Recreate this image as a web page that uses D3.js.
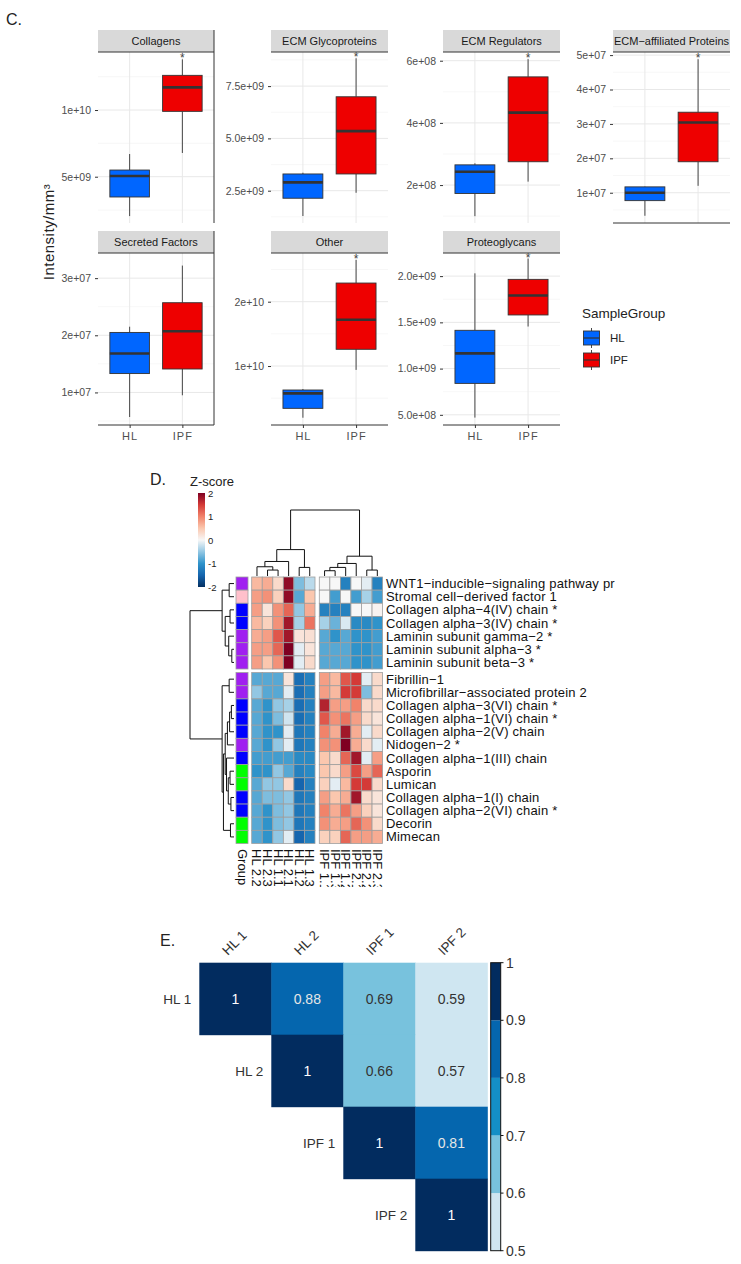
<!DOCTYPE html>
<html><head><meta charset="utf-8">
<script src="https://cdn.jsdelivr.net/npm/d3@7"></script>
<style>body{margin:0;background:#fff;} svg{display:block;font-family:"Liberation Sans",Arial,sans-serif;}</style>
</head><body><svg id="fig" width="741" height="1264"></svg>
<script>
// ================= Panel C data =================
const groups = ["HL","IPF"];
const groupFill = ["#0066FF","#EE0000"];
const facets = ["Collagens","ECM Glycoproteins","ECM Regulators","ECM−affiliated Proteins","Secreted Factors","Other","Proteoglycans"];
// [lower whisker, Q1, median, Q3, upper whisker]
const hlStats = [
  [2.05e9,3.48e9,5.05e9,5.5e9,6.7e9],
  [1.29e9,2.14e9,2.90e9,3.30e9,3.36e9],
  [1.0e8,1.73e8,2.43e8,2.65e8,2.70e8],
  [3.3e6,7.7e6,1.0e7,1.17e7,1.18e7],
  [5.7e6,1.33e7,1.68e7,2.05e7,2.15e7],
  [1.96e9,3.42e9,5.75e9,6.27e9,6.42e9],
  [4.7e8,8.4e8,1.165e9,1.414e9,2.03e9]
];
const ipfStats = [
  [6.78e9,0.99e10,1.17e10,1.26e10,1.38e10],
  [2.40e9,3.30e9,5.35e9,6.99e9,8.83e9],
  [2.11e8,2.75e8,4.33e8,5.48e8,6.05e8],
  [1.2e7,1.9e7,3.04e7,3.34e7,4.88e7],
  [9.5e6,1.41e7,2.07e7,2.57e7,3.22e7],
  [9.4e9,1.26e10,1.72e10,2.29e10,2.65e10],
  [1.455e9,1.58e9,1.79e9,1.965e9,2.19e9]
];
const significant = [true,true,true,true,false,true,true];
const yLimits = [[1.53e9,1.435e10],[0.956e9,9.13e9],[0.78e8,6.28e8],[1.2e6,5.09e7],[4.3e6,3.44e7],[0.83e9,2.757e10],[0.39e9,2.25e9]];
const yTicks = [[5e9,1e10],[2.5e9,5e9,7.5e9],[2e8,4e8,6e8],[1e7,2e7,3e7,4e7,5e7],[1e7,2e7,3e7],[1e10,2e10],[5e8,1e9,1.5e9,2e9]];
const yTickLabels = [["5e+09","1e+10"],["2.5e+09","5.0e+09","7.5e+09"],["2e+08","4e+08","6e+08"],["1e+07","2e+07","3e+07","4e+07","5e+07"],["1e+07","2e+07","3e+07"],["1e+10","2e+10"],["5.0e+08","1.0e+09","1.5e+09","2.0e+09"]];
const facetCol = [0,1,2,3,0,1,2];
const facetRow = [0,0,0,0,1,1,1];

// ================= Panel D data =================
const rowNames = ["WNT1−inducible−signaling pathway pr","Stromal cell−derived factor 1","Collagen alpha−4(IV) chain *","Collagen alpha−3(IV) chain *","Laminin subunit gamma−2 *","Laminin subunit alpha−3 *","Laminin subunit beta−3 *","Fibrillin−1","Microfibrillar−associated protein 2","Collagen alpha−3(VI) chain *","Collagen alpha−1(VI) chain *","Collagen alpha−2(V) chain","Nidogen−2 *","Collagen alpha−1(III) chain","Asporin","Lumican","Collagen alpha−1(I) chain","Collagen alpha−2(VI) chain *","Decorin","Mimecan"];
const rowGroup = ["ECM Glycoproteins","Secreted Factors","Collagens","Collagens","ECM Glycoproteins","ECM Glycoproteins","ECM Glycoproteins","ECM Glycoproteins","ECM Glycoproteins","Collagens","Collagens","Collagens","ECM Glycoproteins","Collagens","Proteoglycans","Proteoglycans","Collagens","Collagens","Proteoglycans","Proteoglycans"];
const annoNames = ["Collagens","ECM Glycoproteins","Proteoglycans","Secreted Factors"];
const annoColors = ["#0000FF","#A020F0","#00FF00","#FFC0CB"];
const colNames = ["HL 2.2","HL 2.3","HL 1.1","HL 2.1","HL 1.2","HL 1.3","IPF 1.1","IPF 1.3","IPF 1.2","IPF 2.1","IPF 2.2","IPF 2.3"];
const zScores = [
  [0.6,0.7,0.3,1.9,-0.6,-0.3, 0,0,-1.2,0,-0.1,-1.2],
  [0.8,0.9,0.4,1.9,-0.8,0.5, 0,-0.9,0,-0.9,-0.4,-0.9],
  [0.8,0.2,0.9,1.2,-0.5,0.7, -1.2,-1.2,-1.2,0,0,0.05],
  [0.6,0.4,0.9,1.8,-0.4,1.1, -0.4,-0.7,-0.15,-1.1,-1.1,-1.0],
  [0.7,0.8,1.3,1.8,0.2,0.25, -0.8,-1.0,-0.8,-1.0,-1.0,-0.9],
  [0.8,0.8,1.2,2.0,-0.1,0.2, -0.8,-0.8,-0.8,-1.0,-1.0,-0.9],
  [0.8,0.5,0.9,2.1,-0.1,0.3, -0.8,-0.8,-0.8,-1.0,-1.0,-0.9],
  [-0.8,-0.8,-0.8,0.2,-1.4,-1.2, 0.8,0.6,1.3,1.5,-0.1,0.3],
  [-0.5,-0.8,-0.8,-0.1,-1.4,-1.2, 0.8,0.6,1.5,1.5,-0.6,0.3],
  [-0.8,-1.0,-0.5,-0.4,-1.4,-1.2, 1.7,0.8,0.8,1.0,0.3,0.3],
  [-0.8,-1.0,-0.6,-0.2,-1.4,-1.2, 1.3,0.9,1.1,0.8,0.3,0.2],
  [-0.8,-1.0,-1.0,-0.1,-1.3,-1.2, 1.0,0.7,1.8,0.7,-0.1,0.3],
  [-0.8,-1.0,-0.5,-0.1,-1.3,-1.2, 0.9,0.9,2.1,0.7,0.3,-0.1],
  [-0.9,-0.9,-0.9,-0.9,-1.1,-1.1, 0.5,0.3,1.2,1.8,-0.1,0.8],
  [-1.0,-1.0,-0.5,-0.8,-1.2,-1.1, 0.5,0.3,0.8,1.4,0.8,1.2],
  [-0.8,-0.5,-0.5,0.3,-1.5,-1.2, 0.4,-0.1,0.6,1.5,1.5,0.3],
  [-0.8,-0.6,-0.6,-0.5,-1.3,-1.2, 0.8,0.5,0.7,1.8,0.3,0.2],
  [-0.8,-1.0,-0.6,-0.5,-1.3,-1.2, 1.0,0.7,1.1,0.8,0.4,0.2],
  [-0.8,-1.0,-0.6,-0.5,-1.3,-1.2, 0.9,0.7,0.8,1.2,0.9,0.3],
  [-0.8,-1.0,-0.5,-0.1,-1.5,-1.2, 0.4,0.4,1.2,0.8,0.8,0.7]
];
// dendrograms: [height, left, right]; leaves are indices
const colTree = [10, [4.0, [2.2, [1.4, 0, [0.9, 1, 2]], 3], [1.3, 4, 5]],
                     [3.0, [1.9, [1.3, [0.8, 6, 7], 8], 9], [0.9, 10, 11]]];
const rowTree = [10,
  [2.7, [1.1, 0, 1], [2.0, [0.9, 2, 3], [1.2, 4, [0.5, 5, 6]]]],
  [2.7, [1.1, 7, 8], [2.4, [2.0, [1.5, [1.0, [0.6, 9, 10], 11], 12], [1.7, 13, [1.3, [0.9, 14, 15], [0.7, 16, 17]]]], [0.8, 18, 19]]]];
const zLegendTicks = [2,1,0,-1,-2];

// ================= Panel E data =================
const samples = ["HL 1","HL 2","IPF 1","IPF 2"];
const corr = [
  [1, 0.88, 0.69, 0.59],
  [null, 1, 0.66, 0.57],
  [null, null, 1, 0.81],
  [null, null, null, 1]
];
const corrBreaks = [0.6,0.7,0.8,0.9];
const corrColors = ["#CFE6F1","#78C2DD","#148FC6","#0566AE","#022C5F"];
const corrLegendTicks = [1,0.9,0.8,0.7,0.6,0.5];

// =================================================
const svg = d3.select("#fig");
const FONT = "Liberation Sans, Arial, sans-serif";

// ---------------- Panel C ----------------
const pc = svg.append("g");
pc.append("text").attr("x",6).attr("y",25).attr("font-size",16).attr("fill","#222").text("C.");
const panelLeft=[98,271,443,613], panelW=[116,117,117,117];
const stripTop=[30,231], plotTop=[52,253], plotBottom=[223,425];
const defs = svg.append("defs");

facets.forEach((name,i)=>{
  const c = facetCol[i], r = facetRow[i];
  const x0 = panelLeft[c], w = panelW[c];
  const x = d3.scalePoint().domain(groups).range([x0,x0+w]).padding(0.6);
  const y = d3.scaleLinear().domain(yLimits[i]).range([plotBottom[r], plotTop[r]]);
  const g = pc.append("g");
  const t = yTicks[i], step = t[1]-t[0];
  const minors = [];
  for(let v=t[0]-step/2; v<=yLimits[i][1]; v+=step) if(v>=yLimits[i][0]) minors.push(v);
  g.selectAll(".mn").data(minors).join("line")
    .attr("x1",x0).attr("x2",x0+w).attr("y1",d=>y(d)).attr("y2",d=>y(d))
    .attr("stroke","#F3F3F3").attr("stroke-width",0.7);
  g.selectAll(".mj").data(t).join("line")
    .attr("x1",x0).attr("x2",x0+w).attr("y1",d=>y(d)).attr("y2",d=>y(d))
    .attr("stroke","#E8E8E8").attr("stroke-width",1);
  g.selectAll(".vg").data(groups).join("line")
    .attr("x1",d=>x(d)).attr("x2",d=>x(d)).attr("y1",plotTop[r]).attr("y2",plotBottom[r])
    .attr("stroke","#E8E8E8").attr("stroke-width",1);
  // strip
  const clipId = "strip"+i;
  defs.append("clipPath").attr("id",clipId).append("rect")
    .attr("x",x0).attr("y",stripTop[r]).attr("width",w).attr("height",plotTop[r]-stripTop[r]);
  g.append("rect").attr("x",x0).attr("y",stripTop[r]).attr("width",w).attr("height",plotTop[r]-stripTop[r]).attr("fill","#D9D9D9");
  g.append("line").attr("x1",x0).attr("x2",x0+w).attr("y1",plotTop[r]).attr("y2",plotTop[r]).attr("stroke","#333").attr("stroke-width",1);
  g.append("text").attr("clip-path",`url(#${clipId})`)
    .attr("x",x0+w/2).attr("y",(stripTop[r]+plotTop[r])/2+4).attr("text-anchor","middle")
    .attr("font-size",11).attr("fill","#1A1A1A").text(name);
  // boxes
  const bw = x.step()*0.75;
  groups.forEach((gn,k)=>{
    const s = k===0 ? hlStats[i] : ipfStats[i];
    const cx = x(gn);
    g.append("line").attr("x1",cx).attr("x2",cx).attr("y1",y(s[0])).attr("y2",y(s[1])).attr("stroke","#333").attr("stroke-width",0.9);
    g.append("line").attr("x1",cx).attr("x2",cx).attr("y1",y(s[3])).attr("y2",y(s[4])).attr("stroke","#333").attr("stroke-width",0.9);
    g.append("rect").attr("x",cx-bw/2).attr("y",y(s[3])).attr("width",bw).attr("height",y(s[1])-y(s[3]))
      .attr("fill",groupFill[k]).attr("stroke","#333").attr("stroke-width",0.9);
    g.append("line").attr("x1",cx-bw/2).attr("x2",cx+bw/2).attr("y1",y(s[2])).attr("y2",y(s[2])).attr("stroke","#333").attr("stroke-width",2.6);
  });
  if(significant[i]){
    g.append("text").attr("x",x("IPF")).attr("y",y(ipfStats[i][4])+3).attr("text-anchor","middle")
      .attr("font-size",12).attr("fill","#444").text("*");
  }
  // y axis
  const ax = d3.axisLeft(y).tickValues(t).tickFormat((d,j)=>yTickLabels[i][j]).tickSize(3).tickPadding(4);
  const ag = g.append("g").attr("transform",`translate(${x0},0)`).call(ax)
    .attr("font-family",FONT).attr("font-size",10.5);
  ag.select(".domain").remove();
  ag.selectAll("line").attr("stroke","#333");
  ag.selectAll("text").attr("fill","#4D4D4D");
  // x axis for bottom row
  if(r===1){
    const xa = d3.axisBottom(x).tickSize(3).tickPadding(4);
    const xg = g.append("g").attr("transform",`translate(0,${plotBottom[r]})`).call(xa)
      .attr("font-family",FONT).attr("font-size",11);
    xg.select(".domain").remove();
    xg.selectAll("line").attr("stroke","#333");
    xg.selectAll("text").attr("fill","#4D4D4D").attr("letter-spacing","1px");
  }
  if(r===1 || i===3){
    g.append("line").attr("x1",x0).attr("x2",x0+w).attr("y1",plotBottom[r]).attr("y2",plotBottom[r]).attr("stroke","#333").attr("stroke-width",1);
  }
  if(c===0){
    g.append("line").attr("x1",x0+w).attr("x2",x0+w).attr("y1",stripTop[r]).attr("y2",plotBottom[r]).attr("stroke","#333").attr("stroke-width",1);
  }
});
// y title
pc.append("text").attr("transform","translate(54,232) rotate(-90)").attr("text-anchor","middle")
  .attr("font-size",15).attr("letter-spacing","0.5px").attr("fill","#222").text("Intensity/mm³");
// legend
const lg = pc.append("g");
lg.append("text").attr("x",582).attr("y",318).attr("font-size",13.5).attr("fill","#222").text("SampleGroup");
groups.forEach((gn,k)=>{
  const ky = 331 + k*22;
  lg.append("line").attr("x1",591.5).attr("x2",591.5).attr("y1",ky-3).attr("y2",ky+17).attr("stroke","#333").attr("stroke-width",0.9);
  lg.append("rect").attr("x",583.5).attr("y",ky).attr("width",16).attr("height",14).attr("fill",groupFill[k]).attr("stroke","#333").attr("stroke-width",0.9);
  lg.append("line").attr("x1",583.5).attr("x2",599.5).attr("y1",ky+7).attr("y2",ky+7).attr("stroke","#333").attr("stroke-width",1.2);
  lg.append("text").attr("x",610).attr("y",ky+11).attr("font-size",11.5).attr("fill","#222").text(gn);
});

// ---------------- Panel D ----------------
const pd = svg.append("g");
pd.append("text").attr("x",150).attr("y",485).attr("font-size",16).attr("fill","#222").text("D.");
pd.append("text").attr("x",190).attr("y",486).attr("font-size",13).attr("fill","#222").text("Z-score");
const zColor = d3.scaleLinear().domain([-2,-1.5,-1,-0.5,0,0.5,1,1.5,2])
  .range(["#053061","#1565AE","#2F93CA","#92C7E3","#F7F7F7","#FBC7AE","#F1836A","#D43A37","#7F0022"]).clamp(true);
// colour legend
const zl = d3.scaleLinear().domain([-2,2]).range([587,493]);
const gradId = "zgrad";
const grad = defs.append("linearGradient").attr("id",gradId).attr("x1",0).attr("x2",0).attr("y1",1).attr("y2",0);
d3.range(-2,2.01,0.25).forEach(v=>grad.append("stop").attr("offset",(v+2)/4).attr("stop-color",zColor(v)));
pd.append("rect").attr("x",198).attr("y",493).attr("width",7).attr("height",94).attr("fill",`url(#${gradId})`);
pd.selectAll(".zt").data(zLegendTicks).join("text").attr("x",208).attr("y",d=>zl(d)+3.5)
  .attr("font-size",9.5).attr("fill","#222").text(d=>d<0? "-"+Math.abs(d) : d);

const colBandL = d3.scaleBand().domain(d3.range(0,6)).range([251.7,315]);
const colBandR = d3.scaleBand().domain(d3.range(6,12)).range([319.3,382.6]);
const colX = j => j<6 ? colBandL(j) : colBandR(j);
const colW = colBandL.bandwidth();
const rowBandT = d3.scaleBand().domain(d3.range(0,7)).range([577,669]);
const rowBandB = d3.scaleBand().domain(d3.range(7,20)).range([672.6,843.5]);
const rowY = i => i<7 ? rowBandT(i) : rowBandB(i);
const rowH = rowBandT.bandwidth();

zScores.forEach((row,i)=>{
  row.forEach((v,j)=>{
    pd.append("rect").attr("x",colX(j)).attr("y",rowY(i)).attr("width",colW).attr("height",rowH)
      .attr("fill",zColor(v)).attr("stroke","#9E9E9E").attr("stroke-width",0.8);
  });
  pd.append("rect").attr("x",236).attr("y",rowY(i)).attr("width",12).attr("height",rowH)
    .attr("fill",annoColors[annoNames.indexOf(rowGroup[i])]).attr("stroke","#9E9E9E").attr("stroke-width",0.8);
  pd.append("text").attr("x",386).attr("y",rowY(i)+rowH/2+4.5).attr("font-size",13)
    .attr("letter-spacing","0.2px").attr("fill","#111").text(rowNames[i]);
});
// column labels (clipped like the reference)
defs.append("clipPath").attr("id","colclip").append("rect").attr("x",0).attr("y",845).attr("width",741).attr("height",42);
const cl = pd.append("g").attr("clip-path","url(#colclip)");
colNames.forEach((nm,j)=>{
  const cx = colX(j)+colW/2 - 4.5;
  cl.append("text").attr("transform",`translate(${cx},849) rotate(90)`).attr("font-size",13).attr("fill","#111").text(nm);
});
cl.append("text").attr("transform",`translate(${242-4.5},849) rotate(90)`).attr("font-size",13).attr("fill","#111").text("Group");

// dendrograms
function drawTree(node, leafPos, hScale, horizontal, g){
  if(typeof node === "number") return {p: leafPos(node), h: 0};
  const a = drawTree(node[1], leafPos, hScale, horizontal, g);
  const b = drawTree(node[2], leafPos, hScale, horizontal, g);
  const h = node[0];
  let pts;
  if(!horizontal){
    pts = [[a.p,hScale(a.h)],[a.p,hScale(h)],[b.p,hScale(h)],[b.p,hScale(b.h)]];
  } else {
    pts = [[hScale(a.h),a.p],[hScale(h),a.p],[hScale(h),b.p],[hScale(b.h),b.p]];
  }
  g.append("path").attr("d",d3.line()(pts)).attr("fill","none").attr("stroke","#111").attr("stroke-width",1);
  return {p:(a.p+b.p)/2, h};
}
const colH = d3.scaleLinear().domain([0,10]).range([576,510]);
drawTree(colTree, j=>colX(j)+colW/2, colH, false, pd);
const rowHs = d3.scaleLinear().domain([0,10]).range([234,190]);
drawTree(rowTree, i=>rowY(i)+rowH/2, rowHs, true, pd);

// ---------------- Panel E ----------------
const pe = svg.append("g");
pe.append("text").attr("x",160).attr("y",946).attr("font-size",16).attr("fill","#222").text("E.");
const cellX = d3.scaleBand().domain(samples).range([199.3,487.3]);
const cellY = d3.scaleBand().domain(samples).range([962.7,1250.7]);
const cColor = d3.scaleThreshold().domain(corrBreaks).range(corrColors);
corr.forEach((row,i)=>row.forEach((v,j)=>{
  if(v===null) return;
  pe.append("rect").attr("x",cellX(samples[j])).attr("y",cellY(samples[i]))
    .attr("width",cellX.bandwidth()+0.5).attr("height",cellY.bandwidth()+0.5).attr("fill",cColor(v));
  pe.append("text").attr("x",cellX(samples[j])+cellX.bandwidth()/2).attr("y",cellY(samples[i])+cellY.bandwidth()/2+5)
    .attr("text-anchor","middle").attr("font-size",14)
    .attr("fill", v>=0.8 ? (v===1?"#FFFFFF":"#E6E6E6") : "#333").text(v===1?"1":v.toFixed(2));
}));
samples.forEach((s,i)=>{
  pe.append("text").attr("x",cellX(s)-8).attr("y",cellY(s)+cellY.bandwidth()/2+5).attr("text-anchor","end")
    .attr("font-size",13.5).attr("fill","#333").text(s);
  const cx = cellX(s)+cellX.bandwidth()/2 - 7.5;
  pe.append("text").attr("transform",`translate(${cx},956) rotate(-45)`).attr("font-size",13.5).attr("fill","#333").text(s);
});
// colour bar
const cb = d3.scaleLinear().domain([0.5,1]).range([1250.7,962.7]);
const cbEdges = [0.5].concat(corrBreaks).concat([1]);
for(let k=0;k<cbEdges.length-1;k++){
  pe.append("rect").attr("x",490.7).attr("y",cb(cbEdges[k+1])).attr("width",10).attr("height",cb(cbEdges[k])-cb(cbEdges[k+1]))
    .attr("fill",corrColors[k]);
}
pe.append("rect").attr("x",490.7).attr("y",962.7).attr("width",10).attr("height",288).attr("fill","none").attr("stroke","#111").attr("stroke-width",1);
corrLegendTicks.forEach(v=>{
  pe.append("line").attr("x1",500.7).attr("x2",503.5).attr("y1",cb(v)).attr("y2",cb(v)).attr("stroke","#111");
  pe.append("text").attr("x",506).attr("y",cb(v)+5).attr("font-size",14).attr("fill","#333").text(v===1?"1":v.toFixed(1));
});
</script></body></html>
